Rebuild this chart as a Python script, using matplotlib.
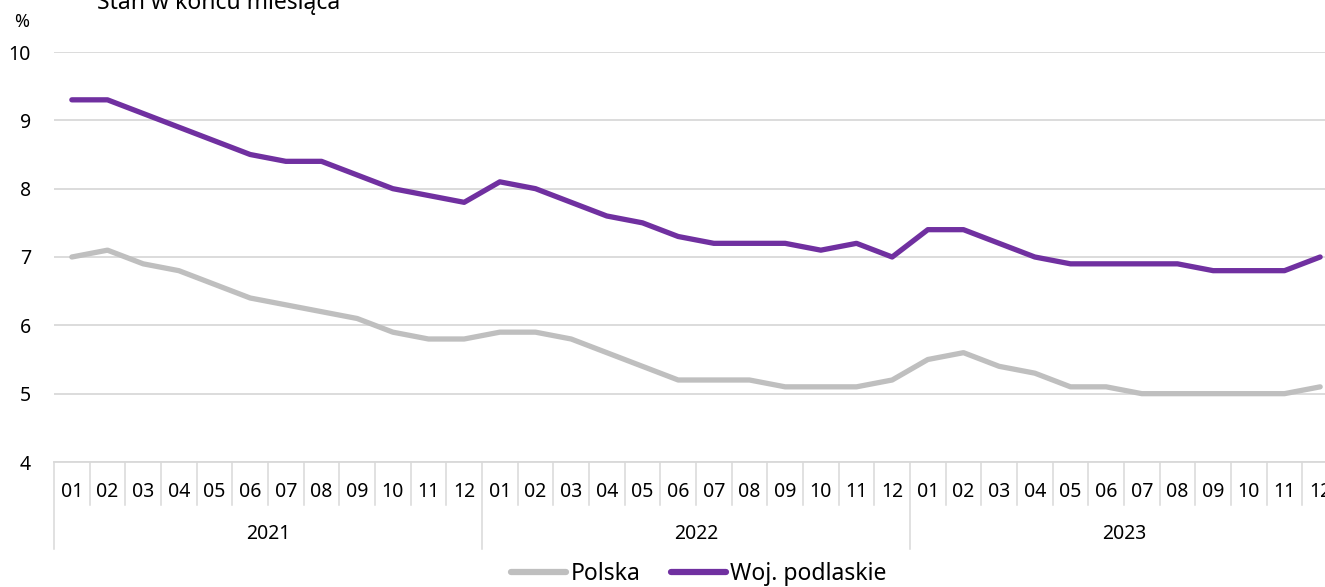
import numpy as np
import matplotlib.pyplot as plt
from matplotlib.transforms import blended_transform_factory

plt.rcParams['font.family'] = ['Noto Sans', 'DejaVu Sans']

years = ["2021", "2022", "2023"]
months = ["01", "02", "03", "04", "05", "06", "07", "08", "09", "10", "11", "12"]

polska = [7.0, 7.1, 6.9, 6.8, 6.6, 6.4, 6.3, 6.2, 6.1, 5.9, 5.8, 5.8,
          5.9, 5.9, 5.8, 5.6, 5.4, 5.2, 5.2, 5.2, 5.1, 5.1, 5.1, 5.2,
          5.5, 5.6, 5.4, 5.3, 5.1, 5.1, 5.0, 5.0, 5.0, 5.0, 5.0, 5.1]
podlaskie = [9.3, 9.3, 9.1, 8.9, 8.7, 8.5, 8.4, 8.4, 8.2, 8.0, 7.9, 7.8,
             8.1, 8.0, 7.8, 7.6, 7.5, 7.3, 7.2, 7.2, 7.2, 7.1, 7.2, 7.0,
             7.4, 7.4, 7.2, 7.0, 6.9, 6.9, 6.9, 6.9, 6.8, 6.8, 6.8, 7.0]

GRAY = "#BFBFBF"
PURPLE = "#7030A0"
GRID = "#D9D9D9"
FS = 14

fig = plt.figure(figsize=(13.25, 5.87), dpi=100)
ax = fig.add_axes([54/1325, 125/587, 1284/1325, 410/587])

x = np.arange(len(polska))
ax.plot(x, polska, color=GRAY, lw=3.8, label="Polska", solid_capstyle="round")
ax.plot(x, podlaskie, color=PURPLE, lw=3.8, label="Woj. podlaskie", solid_capstyle="round")

ax.set_xlim(-0.5, len(x) - 0.5)
ax.set_ylim(4, 10)
ax.set_yticks(range(4, 11))
ax.yaxis.grid(True, color=GRID, lw=1.3)
ax.set_axisbelow(True)
ax.tick_params(axis="y", length=0, pad=16.5, labelsize=FS)
ax.set_xticks([])
for s in ["left", "right", "top"]:
    ax.spines[s].set_visible(False)
ax.spines["bottom"].set_color(GRID)
ax.spines["bottom"].set_linewidth(1.3)

# two-level category axis
tr = blended_transform_factory(ax.transData, ax.transAxes)
n = len(months)
for i in range(len(x) + 1):
    b = i - 0.5
    depth = -0.212 if i % n == 0 else -0.105
    ax.plot([b, b], [0, depth], transform=tr, color=GRID, lw=1.1, clip_on=False)
for i in x:
    ax.text(i, -0.073, months[i % n], transform=tr, ha="center", va="center", fontsize=FS)
for k, yr in enumerate(years):
    ax.text(k * n + (n - 1) / 2, -0.176, yr, transform=tr, ha="center", va="center", fontsize=FS)

fig.text(97/1325, 1 - 3/587, "Stan w końcu miesiąca", ha="left", va="center", fontsize=16.5)
fig.text(29/1325, 1 - 22/587, "%", ha="right", va="center", fontsize=FS - 1)

leg = fig.legend(loc="center", bbox_to_anchor=(699/1325, 13/587), ncol=2, frameon=False,
                 fontsize=16.5, handlelength=2.4, handletextpad=0.2, columnspacing=1.3)
for line in leg.get_lines():
    line.set_linewidth(4.5)

fig.savefig("out.png", dpi=100)
